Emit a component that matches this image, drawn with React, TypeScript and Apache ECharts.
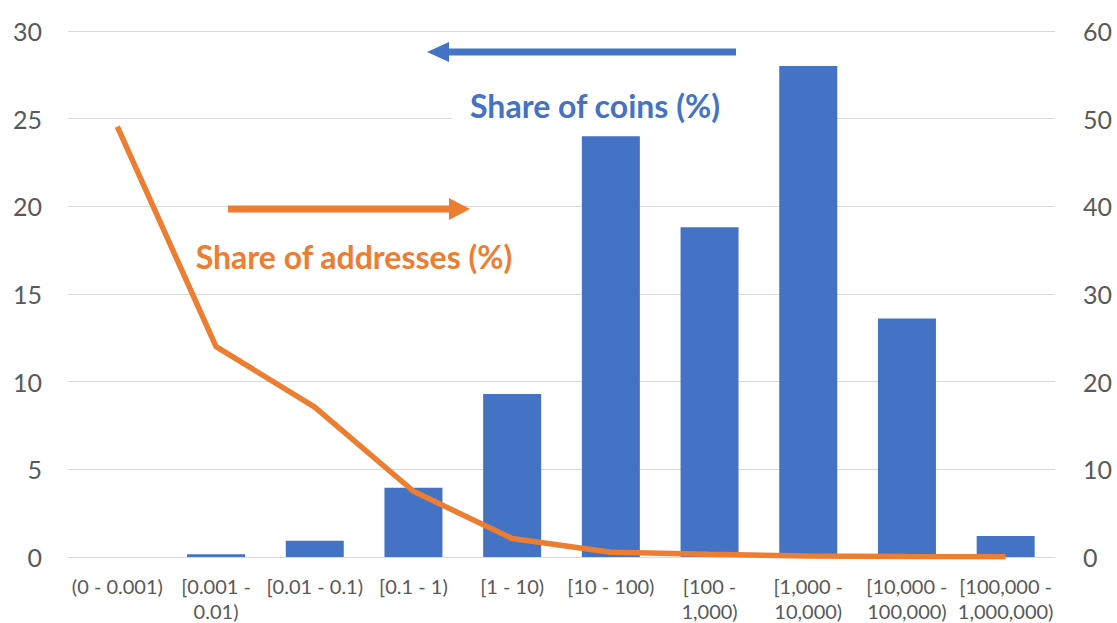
import React, { useEffect, useRef } from "react";
import * as echarts from "echarts";

const categories = [
  "(0 - 0.001)",
  "[0.001 -\n0.01)",
  "[0.01 - 0.1)",
  "[0.1 - 1)",
  "[1 - 10)",
  "[10 - 100)",
  "[100 -\n1,000)",
  "[1,000 -\n10,000)",
  "[10,000 -\n100,000)",
  "[100,000 -\n1,000,000)",
];
const shareOfCoins = [0, 0.15, 0.93, 3.95, 9.3, 24.0, 18.8, 28.0, 13.6, 1.2];
const shareOfAddresses = [49.1, 24.0, 17.1, 7.5, 2.1, 0.55, 0.3, 0.12, 0.05, 0.02];
const leftTicks = { min: 0, max: 30, interval: 5 };
const rightTicks = { min: 0, max: 60, interval: 10 };

const BLUE = "#4472C4";
const ORANGE = "#ED7D31";
const GRAY = "#595959";
const FONT = "Lato, 'Open Sans', sans-serif";

export default function App() {
  const ref = useRef<HTMLDivElement>(null);
  useEffect(() => {
    if (!ref.current) return;
    const chart = echarts.init(ref.current, undefined, { renderer: "svg" });
    chart.setOption({
      animation: false,
      backgroundColor: "#ffffff",
      textStyle: { fontFamily: FONT },
      grid: { left: 68, right: 62, top: 31, bottom: 65, containLabel: false },
      xAxis: {
        type: "category",
        data: categories,
        axisLine: { show: true, lineStyle: { color: "#D9D9D9", width: 1 } },
        axisTick: { show: false },
        axisLabel: {
          interval: 0,
          color: GRAY,
          fontSize: 20,
          lineHeight: 25,
          margin: 16,
          fontFamily: FONT,
        },
      },
      yAxis: [
        {
          type: "value",
          ...leftTicks,
          position: "left",
          axisLine: { show: false },
          axisTick: { show: false },
          splitLine: { lineStyle: { color: "#D9D9D9", width: 1 } },
          axisLabel: { color: GRAY, fontSize: 25, margin: 26, fontFamily: FONT },
        },
        {
          type: "value",
          ...rightTicks,
          position: "right",
          axisLine: { show: false },
          axisTick: { show: false },
          splitLine: { show: false },
          axisLabel: { color: GRAY, fontSize: 25, margin: 28, fontFamily: FONT },
        },
      ],
      series: [
        {
          name: "Share of coins (%)",
          type: "bar",
          yAxisIndex: 0,
          data: shareOfCoins,
          barWidth: 58,
          itemStyle: { color: BLUE },
          z: 2,
        },
        {
          name: "Share of addresses (%)",
          type: "line",
          yAxisIndex: 1,
          data: shareOfAddresses,
          symbol: "none",
          lineStyle: { color: ORANGE, width: 5.5 },
          itemStyle: { color: ORANGE },
          z: 3,
        },
      ],
      graphic: [
        {
          type: "rect",
          shape: { x: 452, y: 74, width: 327, height: 58 },
          style: { fill: "#ffffff" },
          z: 1,
        },
        {
          type: "line",
          shape: { x1: 446, y1: 52, x2: 736, y2: 52 },
          style: { stroke: BLUE, lineWidth: 7 },
          z: 100,
        },
        {
          type: "polygon",
          shape: { points: [[427, 52], [449, 42], [449, 62]] },
          style: { fill: BLUE },
          z: 100,
        },
        {
          type: "text",
          x: 595,
          y: 105,
          style: {
            text: "Share of coins (%)",
            fill: BLUE,
            font: `bold 32px ${FONT}`,
            align: "center",
            verticalAlign: "middle",
          },
          z: 100,
        },
        {
          type: "line",
          shape: { x1: 228, y1: 209, x2: 451, y2: 209 },
          style: { stroke: ORANGE, lineWidth: 7 },
          z: 100,
        },
        {
          type: "polygon",
          shape: { points: [[470, 209], [449, 198], [449, 220]] },
          style: { fill: ORANGE },
          z: 100,
        },
        {
          type: "text",
          x: 354,
          y: 256,
          style: {
            text: "Share of addresses (%)",
            fill: ORANGE,
            font: `bold 32px ${FONT}`,
            align: "center",
            verticalAlign: "middle",
          },
          z: 100,
        },
      ],
    });
    return () => chart.dispose();
  }, []);
  return (
    <div
      ref={ref}
      style={{ position: "absolute", left: 0, top: 0, width: 1117, height: 623 }}
    />
  );
}
